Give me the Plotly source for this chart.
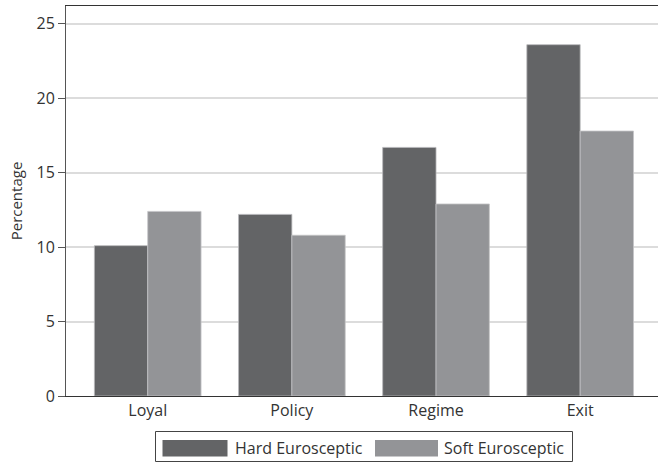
import plotly.graph_objects as go

categories = ["Loyal", "Policy", "Regime", "Exit"]
hard_values = [10.1, 12.2, 16.7, 23.6]
soft_values = [12.4, 10.8, 12.9, 17.8]
series_names = ["Hard Eurosceptic", "Soft Eurosceptic"]
y_ticks = [0, 5, 10, 15, 20, 25]

HARD = "#636466"
SOFT = "#939497"
FONT = "Open Sans"
TXT = "#333333"

fig = go.Figure()
fig.add_trace(go.Bar(x=categories, y=hard_values, name=series_names[0],
                     marker=dict(color=HARD, line=dict(color="#b8b8ba", width=0.8)),
                     showlegend=False))
fig.add_trace(go.Bar(x=categories, y=soft_values, name=series_names[1],
                     marker=dict(color=SOFT, line=dict(color="#c4c4c6", width=0.8)),
                     showlegend=False))

W, H = 658, 463
L, T, PW, PH = 66, 6, 592, 390

def pxp(x): return (x - L) / PW
def pyp(y): return (T + PH - y) / PH

# Manual legend with wide swatches like the reference
shapes = [
    dict(type="rect", xref="paper", yref="paper",
         x0=pxp(155.5), x1=pxp(572.5), y0=pyp(461.5), y1=pyp(431.5),
         line=dict(color="#444444", width=1), fillcolor="white"),
    dict(type="rect", xref="paper", yref="paper",
         x0=pxp(162.5), x1=pxp(227.5), y0=pyp(456.5), y1=pyp(440),
         line=dict(width=0), fillcolor=HARD),
    dict(type="rect", xref="paper", yref="paper",
         x0=pxp(375), x1=pxp(438), y0=pyp(456.5), y1=pyp(440),
         line=dict(width=0), fillcolor=SOFT),
]

annotations = [
    dict(xref="paper", yref="paper", x=pxp(233), y=pyp(448), text=series_names[0],
         showarrow=False, xanchor="left", yanchor="middle",
         font=dict(family=FONT, size=16, color=TXT)),
    dict(xref="paper", yref="paper", x=pxp(442), y=pyp(448), text=series_names[1],
         showarrow=False, xanchor="left", yanchor="middle",
         font=dict(family=FONT, size=16, color=TXT)),
]

fig.update_layout(
    width=W, height=H,
    margin=dict(l=L, r=W - L - PW, t=T, b=H - T - PH, autoexpand=False),
    paper_bgcolor="white", plot_bgcolor="white",
    barmode="group", bargap=0.26, bargroupgap=0,
    font=dict(family=FONT, size=16, color=TXT),
    shapes=shapes, annotations=annotations,
    showlegend=False,
)
fig.update_xaxes(
    range=[-0.567, 3.54], showline=True, mirror=True, linecolor="#333333", linewidth=1,
    ticks="", showgrid=False, automargin=False,
    tickfont=dict(family=FONT, size=16, color=TXT),
)
fig.update_yaxes(
    range=[0, 26.2], tickvals=y_ticks, showline=True, linecolor="#555555", linewidth=1,
    ticks="outside", ticklen=7, tickcolor="#555555", automargin=False,
    showgrid=True, gridcolor="#dcdcdc", gridwidth=1.5, zeroline=False,
    title=dict(text="Percentage", font=dict(family=FONT, size=15, color=TXT), standoff=10),
    tickfont=dict(family=FONT, size=16, color=TXT),
)

fig.write_html("out.html",
               config={"displayModeBar": False},
               post_script="document.body.style.margin='0';document.body.style.overflow='hidden';")
